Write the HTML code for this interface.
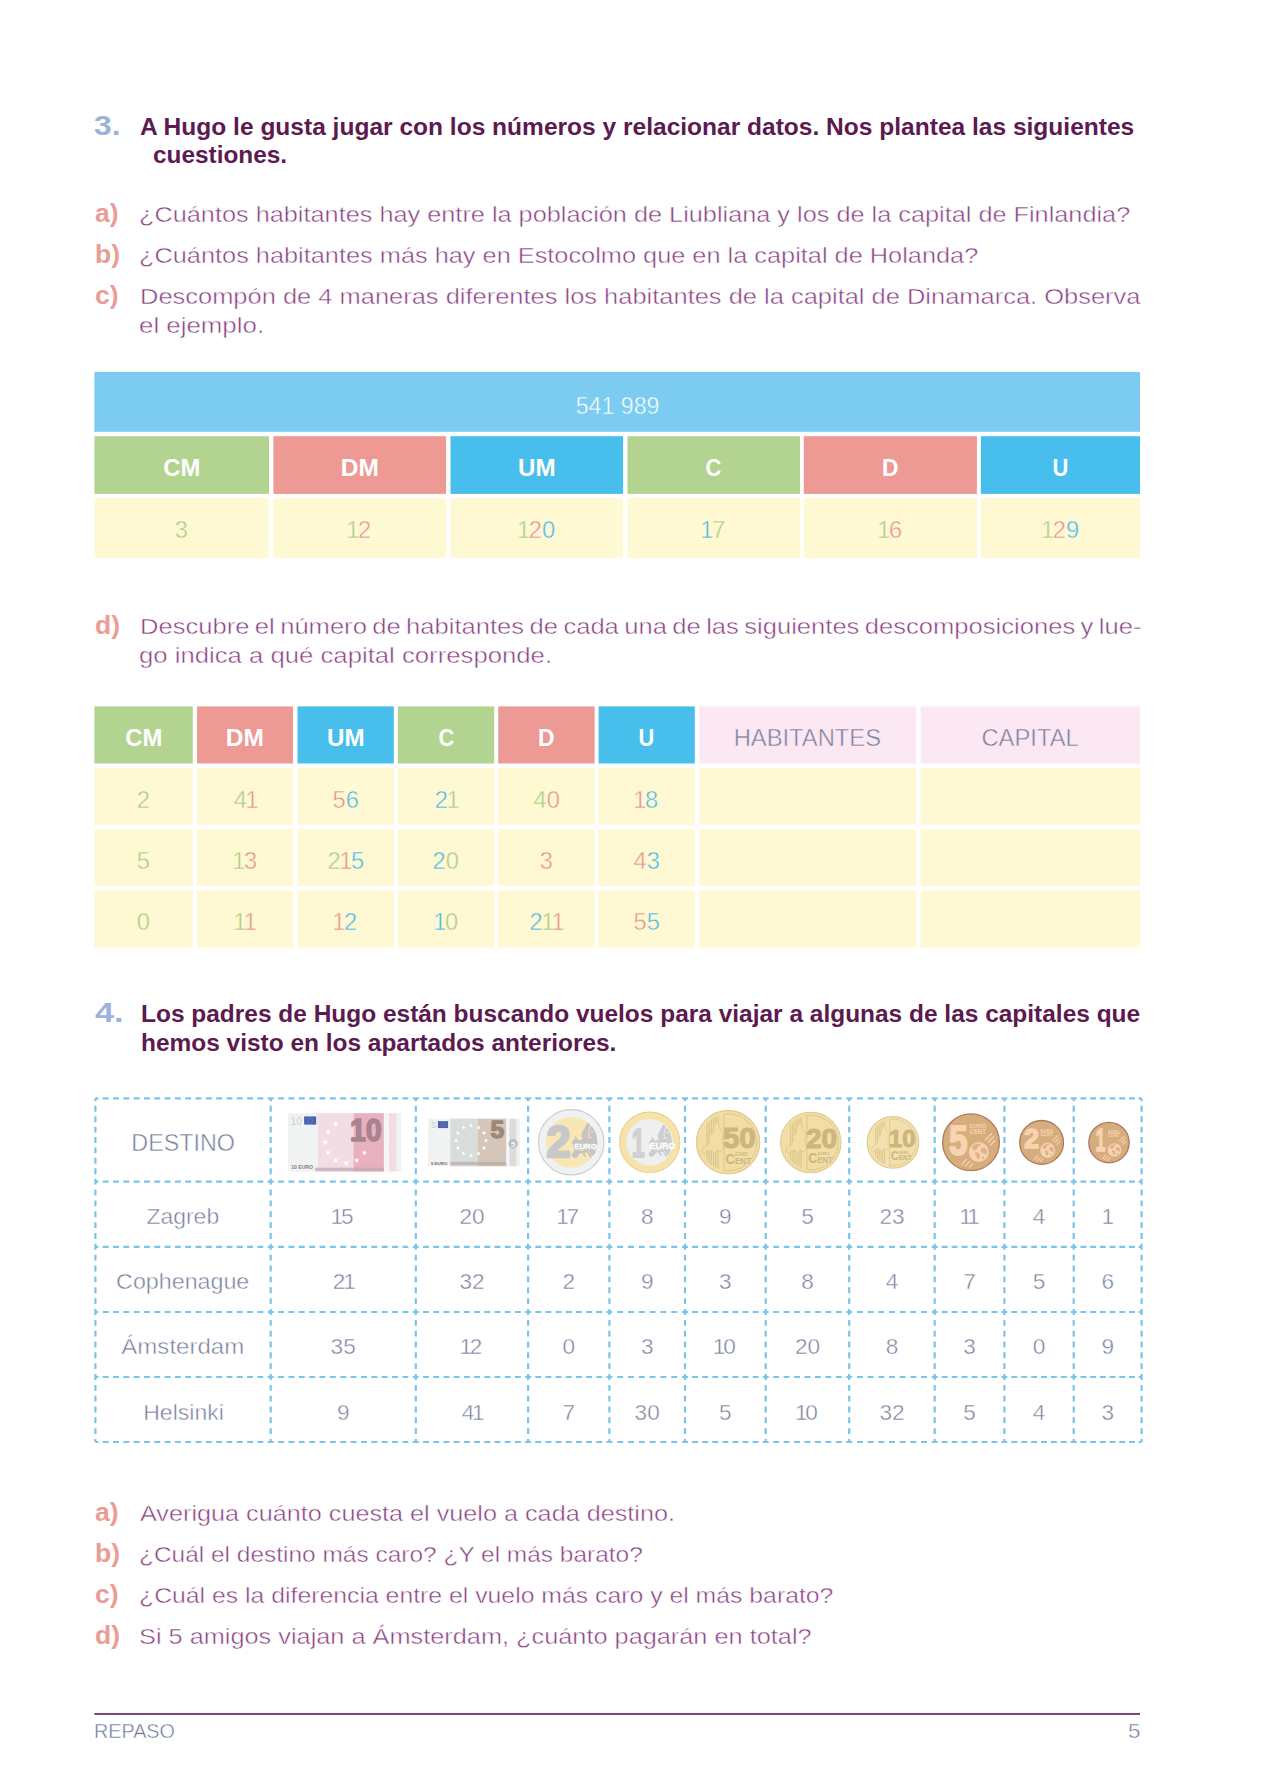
<!DOCTYPE html>
<html lang="es"><head><meta charset="utf-8"><title>Repaso</title>
<style>
html,body{margin:0;padding:0;background:#fff;overflow:hidden}
body{width:1276px;height:1790px;position:relative;font-family:"Liberation Sans",sans-serif}
.t{position:absolute;white-space:nowrap;line-height:1;margin:0}
.t span.s{display:inline-block;transform-origin:0 0}
.t.c span.s{transform-origin:50% 0}
.c{text-align:center}
.b{position:absolute}
svg{position:absolute;left:0;top:0}
</style></head><body><div id="pg" style="position:absolute;left:0;top:0;width:1276px;height:1790px;overflow:hidden">
<svg width="1276" height="1790" viewBox="0 0 1276 1790" font-family="Liberation Sans, sans-serif">
<rect x="94.4" y="371.9" width="1045.6" height="59.9" fill="#7bccf0"/>
<rect x="94.4" y="436.2" width="174.6" height="57.7" fill="#b2d490"/>
<rect x="94.4" y="498.2" width="174.6" height="59.6" fill="#fef8d3"/>
<rect x="273.4" y="436.2" width="172.7" height="57.7" fill="#ed9994"/>
<rect x="273.4" y="498.2" width="172.7" height="59.6" fill="#fef8d3"/>
<rect x="450.5" y="436.2" width="172.6" height="57.7" fill="#47beec"/>
<rect x="450.5" y="498.2" width="172.6" height="59.6" fill="#fef8d3"/>
<rect x="627.5" y="436.2" width="172.5" height="57.7" fill="#b2d490"/>
<rect x="627.5" y="498.2" width="172.5" height="59.6" fill="#fef8d3"/>
<rect x="803.8" y="436.2" width="173.1" height="57.7" fill="#ed9994"/>
<rect x="803.8" y="498.2" width="173.1" height="59.6" fill="#fef8d3"/>
<rect x="980.9" y="436.2" width="159.1" height="57.7" fill="#47beec"/>
<rect x="980.9" y="498.2" width="159.1" height="59.6" fill="#fef8d3"/>
<rect x="94.4" y="706.4" width="98.4" height="57.1" fill="#b2d490"/>
<rect x="94.4" y="768.0" width="98.4" height="56.8" fill="#fef8d3"/>
<rect x="94.4" y="829.3" width="98.4" height="56.8" fill="#fef8d3"/>
<rect x="94.4" y="890.6" width="98.4" height="56.8" fill="#fef8d3"/>
<rect x="197.0" y="706.4" width="96.0" height="57.1" fill="#ed9994"/>
<rect x="197.0" y="768.0" width="96.0" height="56.8" fill="#fef8d3"/>
<rect x="197.0" y="829.3" width="96.0" height="56.8" fill="#fef8d3"/>
<rect x="197.0" y="890.6" width="96.0" height="56.8" fill="#fef8d3"/>
<rect x="297.5" y="706.4" width="96.3" height="57.1" fill="#47beec"/>
<rect x="297.5" y="768.0" width="96.3" height="56.8" fill="#fef8d3"/>
<rect x="297.5" y="829.3" width="96.3" height="56.8" fill="#fef8d3"/>
<rect x="297.5" y="890.6" width="96.3" height="56.8" fill="#fef8d3"/>
<rect x="397.8" y="706.4" width="96.4" height="57.1" fill="#b2d490"/>
<rect x="397.8" y="768.0" width="96.4" height="56.8" fill="#fef8d3"/>
<rect x="397.8" y="829.3" width="96.4" height="56.8" fill="#fef8d3"/>
<rect x="397.8" y="890.6" width="96.4" height="56.8" fill="#fef8d3"/>
<rect x="498.2" y="706.4" width="96.4" height="57.1" fill="#ed9994"/>
<rect x="498.2" y="768.0" width="96.4" height="56.8" fill="#fef8d3"/>
<rect x="498.2" y="829.3" width="96.4" height="56.8" fill="#fef8d3"/>
<rect x="498.2" y="890.6" width="96.4" height="56.8" fill="#fef8d3"/>
<rect x="598.6" y="706.4" width="96.2" height="57.1" fill="#47beec"/>
<rect x="598.6" y="768.0" width="96.2" height="56.8" fill="#fef8d3"/>
<rect x="598.6" y="829.3" width="96.2" height="56.8" fill="#fef8d3"/>
<rect x="598.6" y="890.6" width="96.2" height="56.8" fill="#fef8d3"/>
<rect x="699.3" y="706.4" width="216.9" height="57.1" fill="#fce8f3"/>
<rect x="699.3" y="768.0" width="216.9" height="56.8" fill="#fef8d3"/>
<rect x="699.3" y="829.3" width="216.9" height="56.8" fill="#fef8d3"/>
<rect x="699.3" y="890.6" width="216.9" height="56.8" fill="#fef8d3"/>
<rect x="920.7" y="706.4" width="219.3" height="57.1" fill="#fce8f3"/>
<rect x="920.7" y="768.0" width="219.3" height="56.8" fill="#fef8d3"/>
<rect x="920.7" y="829.3" width="219.3" height="56.8" fill="#fef8d3"/>
<rect x="920.7" y="890.6" width="219.3" height="56.8" fill="#fef8d3"/>

<g stroke="#79c4ea" stroke-width="2.2" fill="none"><path d="M95.4 1098.4L270.7 1098.4" stroke-dasharray="5.90 4.41" stroke-dashoffset="2.95"/><path d="M270.7 1098.4L415.8 1098.4" stroke-dasharray="5.90 4.46" stroke-dashoffset="2.95"/><path d="M415.8 1098.4L528.1 1098.4" stroke-dasharray="5.90 4.31" stroke-dashoffset="2.95"/><path d="M528.1 1098.4L609.4 1098.4" stroke-dasharray="5.90 4.26" stroke-dashoffset="2.95"/><path d="M609.4 1098.4L685.0 1098.4" stroke-dasharray="5.90 4.90" stroke-dashoffset="2.95"/><path d="M685.0 1098.4L765.7 1098.4" stroke-dasharray="5.90 4.19" stroke-dashoffset="2.95"/><path d="M765.7 1098.4L849.2 1098.4" stroke-dasharray="5.90 4.54" stroke-dashoffset="2.95"/><path d="M849.2 1098.4L934.7 1098.4" stroke-dasharray="5.90 4.79" stroke-dashoffset="2.95"/><path d="M934.7 1098.4L1004.4 1098.4" stroke-dasharray="5.90 4.06" stroke-dashoffset="2.95"/><path d="M1004.4 1098.4L1073.7 1098.4" stroke-dasharray="5.90 4.00" stroke-dashoffset="2.95"/><path d="M1073.7 1098.4L1141.6 1098.4" stroke-dasharray="5.90 3.80" stroke-dashoffset="2.95"/><path d="M95.4 1181.6L270.7 1181.6" stroke-dasharray="5.90 4.41" stroke-dashoffset="2.95"/><path d="M270.7 1181.6L415.8 1181.6" stroke-dasharray="5.90 4.46" stroke-dashoffset="2.95"/><path d="M415.8 1181.6L528.1 1181.6" stroke-dasharray="5.90 4.31" stroke-dashoffset="2.95"/><path d="M528.1 1181.6L609.4 1181.6" stroke-dasharray="5.90 4.26" stroke-dashoffset="2.95"/><path d="M609.4 1181.6L685.0 1181.6" stroke-dasharray="5.90 4.90" stroke-dashoffset="2.95"/><path d="M685.0 1181.6L765.7 1181.6" stroke-dasharray="5.90 4.19" stroke-dashoffset="2.95"/><path d="M765.7 1181.6L849.2 1181.6" stroke-dasharray="5.90 4.54" stroke-dashoffset="2.95"/><path d="M849.2 1181.6L934.7 1181.6" stroke-dasharray="5.90 4.79" stroke-dashoffset="2.95"/><path d="M934.7 1181.6L1004.4 1181.6" stroke-dasharray="5.90 4.06" stroke-dashoffset="2.95"/><path d="M1004.4 1181.6L1073.7 1181.6" stroke-dasharray="5.90 4.00" stroke-dashoffset="2.95"/><path d="M1073.7 1181.6L1141.6 1181.6" stroke-dasharray="5.90 3.80" stroke-dashoffset="2.95"/><path d="M95.4 1246.8L270.7 1246.8" stroke-dasharray="5.90 4.41" stroke-dashoffset="2.95"/><path d="M270.7 1246.8L415.8 1246.8" stroke-dasharray="5.90 4.46" stroke-dashoffset="2.95"/><path d="M415.8 1246.8L528.1 1246.8" stroke-dasharray="5.90 4.31" stroke-dashoffset="2.95"/><path d="M528.1 1246.8L609.4 1246.8" stroke-dasharray="5.90 4.26" stroke-dashoffset="2.95"/><path d="M609.4 1246.8L685.0 1246.8" stroke-dasharray="5.90 4.90" stroke-dashoffset="2.95"/><path d="M685.0 1246.8L765.7 1246.8" stroke-dasharray="5.90 4.19" stroke-dashoffset="2.95"/><path d="M765.7 1246.8L849.2 1246.8" stroke-dasharray="5.90 4.54" stroke-dashoffset="2.95"/><path d="M849.2 1246.8L934.7 1246.8" stroke-dasharray="5.90 4.79" stroke-dashoffset="2.95"/><path d="M934.7 1246.8L1004.4 1246.8" stroke-dasharray="5.90 4.06" stroke-dashoffset="2.95"/><path d="M1004.4 1246.8L1073.7 1246.8" stroke-dasharray="5.90 4.00" stroke-dashoffset="2.95"/><path d="M1073.7 1246.8L1141.6 1246.8" stroke-dasharray="5.90 3.80" stroke-dashoffset="2.95"/><path d="M95.4 1312.0L270.7 1312.0" stroke-dasharray="5.90 4.41" stroke-dashoffset="2.95"/><path d="M270.7 1312.0L415.8 1312.0" stroke-dasharray="5.90 4.46" stroke-dashoffset="2.95"/><path d="M415.8 1312.0L528.1 1312.0" stroke-dasharray="5.90 4.31" stroke-dashoffset="2.95"/><path d="M528.1 1312.0L609.4 1312.0" stroke-dasharray="5.90 4.26" stroke-dashoffset="2.95"/><path d="M609.4 1312.0L685.0 1312.0" stroke-dasharray="5.90 4.90" stroke-dashoffset="2.95"/><path d="M685.0 1312.0L765.7 1312.0" stroke-dasharray="5.90 4.19" stroke-dashoffset="2.95"/><path d="M765.7 1312.0L849.2 1312.0" stroke-dasharray="5.90 4.54" stroke-dashoffset="2.95"/><path d="M849.2 1312.0L934.7 1312.0" stroke-dasharray="5.90 4.79" stroke-dashoffset="2.95"/><path d="M934.7 1312.0L1004.4 1312.0" stroke-dasharray="5.90 4.06" stroke-dashoffset="2.95"/><path d="M1004.4 1312.0L1073.7 1312.0" stroke-dasharray="5.90 4.00" stroke-dashoffset="2.95"/><path d="M1073.7 1312.0L1141.6 1312.0" stroke-dasharray="5.90 3.80" stroke-dashoffset="2.95"/><path d="M95.4 1377.0L270.7 1377.0" stroke-dasharray="5.90 4.41" stroke-dashoffset="2.95"/><path d="M270.7 1377.0L415.8 1377.0" stroke-dasharray="5.90 4.46" stroke-dashoffset="2.95"/><path d="M415.8 1377.0L528.1 1377.0" stroke-dasharray="5.90 4.31" stroke-dashoffset="2.95"/><path d="M528.1 1377.0L609.4 1377.0" stroke-dasharray="5.90 4.26" stroke-dashoffset="2.95"/><path d="M609.4 1377.0L685.0 1377.0" stroke-dasharray="5.90 4.90" stroke-dashoffset="2.95"/><path d="M685.0 1377.0L765.7 1377.0" stroke-dasharray="5.90 4.19" stroke-dashoffset="2.95"/><path d="M765.7 1377.0L849.2 1377.0" stroke-dasharray="5.90 4.54" stroke-dashoffset="2.95"/><path d="M849.2 1377.0L934.7 1377.0" stroke-dasharray="5.90 4.79" stroke-dashoffset="2.95"/><path d="M934.7 1377.0L1004.4 1377.0" stroke-dasharray="5.90 4.06" stroke-dashoffset="2.95"/><path d="M1004.4 1377.0L1073.7 1377.0" stroke-dasharray="5.90 4.00" stroke-dashoffset="2.95"/><path d="M1073.7 1377.0L1141.6 1377.0" stroke-dasharray="5.90 3.80" stroke-dashoffset="2.95"/><path d="M95.4 1442.0L270.7 1442.0" stroke-dasharray="5.90 4.41" stroke-dashoffset="2.95"/><path d="M270.7 1442.0L415.8 1442.0" stroke-dasharray="5.90 4.46" stroke-dashoffset="2.95"/><path d="M415.8 1442.0L528.1 1442.0" stroke-dasharray="5.90 4.31" stroke-dashoffset="2.95"/><path d="M528.1 1442.0L609.4 1442.0" stroke-dasharray="5.90 4.26" stroke-dashoffset="2.95"/><path d="M609.4 1442.0L685.0 1442.0" stroke-dasharray="5.90 4.90" stroke-dashoffset="2.95"/><path d="M685.0 1442.0L765.7 1442.0" stroke-dasharray="5.90 4.19" stroke-dashoffset="2.95"/><path d="M765.7 1442.0L849.2 1442.0" stroke-dasharray="5.90 4.54" stroke-dashoffset="2.95"/><path d="M849.2 1442.0L934.7 1442.0" stroke-dasharray="5.90 4.79" stroke-dashoffset="2.95"/><path d="M934.7 1442.0L1004.4 1442.0" stroke-dasharray="5.90 4.06" stroke-dashoffset="2.95"/><path d="M1004.4 1442.0L1073.7 1442.0" stroke-dasharray="5.90 4.00" stroke-dashoffset="2.95"/><path d="M1073.7 1442.0L1141.6 1442.0" stroke-dasharray="5.90 3.80" stroke-dashoffset="2.95"/><path d="M95.4 1098.4L95.4 1181.6" stroke-dasharray="5.90 4.50" stroke-dashoffset="2.95"/><path d="M95.4 1181.6L95.4 1246.8" stroke-dasharray="5.90 4.97" stroke-dashoffset="2.95"/><path d="M95.4 1246.8L95.4 1312.0" stroke-dasharray="5.90 4.97" stroke-dashoffset="2.95"/><path d="M95.4 1312.0L95.4 1377.0" stroke-dasharray="5.90 4.93" stroke-dashoffset="2.95"/><path d="M95.4 1377.0L95.4 1442.0" stroke-dasharray="5.90 4.93" stroke-dashoffset="2.95"/><path d="M270.7 1098.4L270.7 1181.6" stroke-dasharray="5.90 4.50" stroke-dashoffset="2.95"/><path d="M270.7 1181.6L270.7 1246.8" stroke-dasharray="5.90 4.97" stroke-dashoffset="2.95"/><path d="M270.7 1246.8L270.7 1312.0" stroke-dasharray="5.90 4.97" stroke-dashoffset="2.95"/><path d="M270.7 1312.0L270.7 1377.0" stroke-dasharray="5.90 4.93" stroke-dashoffset="2.95"/><path d="M270.7 1377.0L270.7 1442.0" stroke-dasharray="5.90 4.93" stroke-dashoffset="2.95"/><path d="M415.8 1098.4L415.8 1181.6" stroke-dasharray="5.90 4.50" stroke-dashoffset="2.95"/><path d="M415.8 1181.6L415.8 1246.8" stroke-dasharray="5.90 4.97" stroke-dashoffset="2.95"/><path d="M415.8 1246.8L415.8 1312.0" stroke-dasharray="5.90 4.97" stroke-dashoffset="2.95"/><path d="M415.8 1312.0L415.8 1377.0" stroke-dasharray="5.90 4.93" stroke-dashoffset="2.95"/><path d="M415.8 1377.0L415.8 1442.0" stroke-dasharray="5.90 4.93" stroke-dashoffset="2.95"/><path d="M528.1 1098.4L528.1 1181.6" stroke-dasharray="5.90 4.50" stroke-dashoffset="2.95"/><path d="M528.1 1181.6L528.1 1246.8" stroke-dasharray="5.90 4.97" stroke-dashoffset="2.95"/><path d="M528.1 1246.8L528.1 1312.0" stroke-dasharray="5.90 4.97" stroke-dashoffset="2.95"/><path d="M528.1 1312.0L528.1 1377.0" stroke-dasharray="5.90 4.93" stroke-dashoffset="2.95"/><path d="M528.1 1377.0L528.1 1442.0" stroke-dasharray="5.90 4.93" stroke-dashoffset="2.95"/><path d="M609.4 1098.4L609.4 1181.6" stroke-dasharray="5.90 4.50" stroke-dashoffset="2.95"/><path d="M609.4 1181.6L609.4 1246.8" stroke-dasharray="5.90 4.97" stroke-dashoffset="2.95"/><path d="M609.4 1246.8L609.4 1312.0" stroke-dasharray="5.90 4.97" stroke-dashoffset="2.95"/><path d="M609.4 1312.0L609.4 1377.0" stroke-dasharray="5.90 4.93" stroke-dashoffset="2.95"/><path d="M609.4 1377.0L609.4 1442.0" stroke-dasharray="5.90 4.93" stroke-dashoffset="2.95"/><path d="M685.0 1098.4L685.0 1181.6" stroke-dasharray="5.90 4.50" stroke-dashoffset="2.95"/><path d="M685.0 1181.6L685.0 1246.8" stroke-dasharray="5.90 4.97" stroke-dashoffset="2.95"/><path d="M685.0 1246.8L685.0 1312.0" stroke-dasharray="5.90 4.97" stroke-dashoffset="2.95"/><path d="M685.0 1312.0L685.0 1377.0" stroke-dasharray="5.90 4.93" stroke-dashoffset="2.95"/><path d="M685.0 1377.0L685.0 1442.0" stroke-dasharray="5.90 4.93" stroke-dashoffset="2.95"/><path d="M765.7 1098.4L765.7 1181.6" stroke-dasharray="5.90 4.50" stroke-dashoffset="2.95"/><path d="M765.7 1181.6L765.7 1246.8" stroke-dasharray="5.90 4.97" stroke-dashoffset="2.95"/><path d="M765.7 1246.8L765.7 1312.0" stroke-dasharray="5.90 4.97" stroke-dashoffset="2.95"/><path d="M765.7 1312.0L765.7 1377.0" stroke-dasharray="5.90 4.93" stroke-dashoffset="2.95"/><path d="M765.7 1377.0L765.7 1442.0" stroke-dasharray="5.90 4.93" stroke-dashoffset="2.95"/><path d="M849.2 1098.4L849.2 1181.6" stroke-dasharray="5.90 4.50" stroke-dashoffset="2.95"/><path d="M849.2 1181.6L849.2 1246.8" stroke-dasharray="5.90 4.97" stroke-dashoffset="2.95"/><path d="M849.2 1246.8L849.2 1312.0" stroke-dasharray="5.90 4.97" stroke-dashoffset="2.95"/><path d="M849.2 1312.0L849.2 1377.0" stroke-dasharray="5.90 4.93" stroke-dashoffset="2.95"/><path d="M849.2 1377.0L849.2 1442.0" stroke-dasharray="5.90 4.93" stroke-dashoffset="2.95"/><path d="M934.7 1098.4L934.7 1181.6" stroke-dasharray="5.90 4.50" stroke-dashoffset="2.95"/><path d="M934.7 1181.6L934.7 1246.8" stroke-dasharray="5.90 4.97" stroke-dashoffset="2.95"/><path d="M934.7 1246.8L934.7 1312.0" stroke-dasharray="5.90 4.97" stroke-dashoffset="2.95"/><path d="M934.7 1312.0L934.7 1377.0" stroke-dasharray="5.90 4.93" stroke-dashoffset="2.95"/><path d="M934.7 1377.0L934.7 1442.0" stroke-dasharray="5.90 4.93" stroke-dashoffset="2.95"/><path d="M1004.4 1098.4L1004.4 1181.6" stroke-dasharray="5.90 4.50" stroke-dashoffset="2.95"/><path d="M1004.4 1181.6L1004.4 1246.8" stroke-dasharray="5.90 4.97" stroke-dashoffset="2.95"/><path d="M1004.4 1246.8L1004.4 1312.0" stroke-dasharray="5.90 4.97" stroke-dashoffset="2.95"/><path d="M1004.4 1312.0L1004.4 1377.0" stroke-dasharray="5.90 4.93" stroke-dashoffset="2.95"/><path d="M1004.4 1377.0L1004.4 1442.0" stroke-dasharray="5.90 4.93" stroke-dashoffset="2.95"/><path d="M1073.7 1098.4L1073.7 1181.6" stroke-dasharray="5.90 4.50" stroke-dashoffset="2.95"/><path d="M1073.7 1181.6L1073.7 1246.8" stroke-dasharray="5.90 4.97" stroke-dashoffset="2.95"/><path d="M1073.7 1246.8L1073.7 1312.0" stroke-dasharray="5.90 4.97" stroke-dashoffset="2.95"/><path d="M1073.7 1312.0L1073.7 1377.0" stroke-dasharray="5.90 4.93" stroke-dashoffset="2.95"/><path d="M1073.7 1377.0L1073.7 1442.0" stroke-dasharray="5.90 4.93" stroke-dashoffset="2.95"/><path d="M1141.6 1098.4L1141.6 1181.6" stroke-dasharray="5.90 4.50" stroke-dashoffset="2.95"/><path d="M1141.6 1181.6L1141.6 1246.8" stroke-dasharray="5.90 4.97" stroke-dashoffset="2.95"/><path d="M1141.6 1246.8L1141.6 1312.0" stroke-dasharray="5.90 4.97" stroke-dashoffset="2.95"/><path d="M1141.6 1312.0L1141.6 1377.0" stroke-dasharray="5.90 4.93" stroke-dashoffset="2.95"/><path d="M1141.6 1377.0L1141.6 1442.0" stroke-dasharray="5.90 4.93" stroke-dashoffset="2.95"/></g>
<rect x="94.4" y="1713" width="1045.6" height="1.9" fill="#7b3a74"/>
<g><rect x="287.8" y="1113.2" width="113.3" height="58.4" fill="#f1f3f2"/><rect x="317.8" y="1113.2" width="35.7" height="58.4" fill="#f3dde5"/><rect x="353.5" y="1113.2" width="30.3" height="58.4" fill="#e9b1c0"/><rect x="384" y="1113.2" width="5" height="58.4" fill="#f6f6f6"/><path d="M389.5 1113.2H396.0Q397.6 1115.3 396.0 1117.4Q397.6 1119.5 396.0 1121.5Q397.6 1123.6 396.0 1125.7Q397.6 1127.8 396.0 1129.9Q397.6 1132.0 396.0 1134.1Q397.6 1136.1 396.0 1138.2Q397.6 1140.3 396.0 1142.4Q397.6 1144.5 396.0 1146.6Q397.6 1148.7 396.0 1150.7Q397.6 1152.8 396.0 1154.9Q397.6 1157.0 396.0 1159.1Q397.6 1161.2 396.0 1163.3Q397.6 1165.3 396.0 1167.4Q397.6 1169.5 396.0 1171.6H389.5Q387.9 1169.5 389.5 1167.4Q387.9 1165.3 389.5 1163.3Q387.9 1161.2 389.5 1159.1Q387.9 1157.0 389.5 1154.9Q387.9 1152.8 389.5 1150.7Q387.9 1148.7 389.5 1146.6Q387.9 1144.5 389.5 1142.4Q387.9 1140.3 389.5 1138.2Q387.9 1136.1 389.5 1134.1Q387.9 1132.0 389.5 1129.9Q387.9 1127.8 389.5 1125.7Q387.9 1123.6 389.5 1121.5Q387.9 1119.5 389.5 1117.4Q387.9 1115.3 389.5 1113.2Z" fill="#f3dce4"/><rect x="314.9" y="1167.7" width="68.9" height="3.5" fill="#c3a9b1" opacity=".75"/><rect x="304.1" y="1116.4" width="12.1" height="8.2" fill="#4c63b0"/><circle cx="310.2" cy="1120.5" r="2.5" fill="none" stroke="#8fa0d8" stroke-width=".6" stroke-dasharray=".6 .65"/><polygon points="364.4,1149.8 365.1,1151.7 367.1,1151.8 365.5,1153.1 366.1,1155.0 364.4,1153.9 362.7,1155.0 363.2,1153.1 361.6,1151.8 363.7,1151.7" fill="#fff"/><polygon points="356.7,1157.5 357.4,1159.4 359.5,1159.5 357.9,1160.8 358.4,1162.7 356.7,1161.6 355.0,1162.7 355.5,1160.8 353.9,1159.5 356.0,1159.4" fill="#fff"/><polygon points="346.2,1160.3 346.9,1162.2 349.0,1162.3 347.4,1163.6 347.9,1165.5 346.2,1164.4 344.5,1165.5 345.0,1163.6 343.4,1162.3 345.5,1162.2" fill="#fff"/><polygon points="335.7,1157.5 336.4,1159.4 338.5,1159.5 336.9,1160.8 337.4,1162.7 335.7,1161.6 334.0,1162.7 334.5,1160.8 332.9,1159.5 335.0,1159.4" fill="#fff"/><polygon points="328.0,1149.8 328.7,1151.7 330.8,1151.8 329.2,1153.1 329.7,1155.0 328.0,1153.9 326.3,1155.0 326.9,1153.1 325.3,1151.8 327.3,1151.7" fill="#fff"/><polygon points="325.2,1139.3 325.9,1141.2 328.0,1141.3 326.4,1142.6 326.9,1144.5 325.2,1143.4 323.5,1144.5 324.0,1142.6 322.4,1141.3 324.5,1141.2" fill="#fff"/><polygon points="328.0,1128.8 328.7,1130.7 330.8,1130.8 329.2,1132.1 329.7,1134.0 328.0,1132.9 326.3,1134.0 326.9,1132.1 325.3,1130.8 327.3,1130.7" fill="#fff"/><polygon points="335.7,1121.1 336.4,1123.0 338.5,1123.1 336.9,1124.4 337.4,1126.4 335.7,1125.2 334.0,1126.4 334.5,1124.4 332.9,1123.1 335.0,1123.0" fill="#fff"/><text x="290.4" y="1124.7" font-size="11.2" fill="#c9d0d4" textLength="11.6" lengthAdjust="spacingAndGlyphs">10</text><text x="349.9" y="1141.4" font-size="32.0" font-weight="700" fill="#a9838f" stroke="#a9838f" stroke-width="1.60" stroke-linejoin="round" textLength="31.8" lengthAdjust="spacingAndGlyphs">10</text><text x="291.2" y="1169.4" font-size="5" font-weight="700" fill="#8b7b80" textLength="21.8" lengthAdjust="spacingAndGlyphs">10 EURO</text></g>
<g><rect x="427.9" y="1118.7" width="92.1" height="47.6" fill="#f1f3f2"/><rect x="450.4" y="1118.7" width="27.1" height="47.6" fill="#d8dddc"/><rect x="477.5" y="1118.7" width="28.8" height="47.6" fill="#d6c6ba"/><rect x="506.3" y="1118.7" width="3" height="47.6" fill="#f6f6f6"/><path d="M509.9 1118.7H516.0Q517.6 1120.9 516.0 1123.0Q517.6 1125.2 516.0 1127.4Q517.6 1129.5 516.0 1131.7Q517.6 1133.8 516.0 1136.0Q517.6 1138.2 516.0 1140.3Q517.6 1142.5 516.0 1144.7Q517.6 1146.8 516.0 1149.0Q517.6 1151.2 516.0 1153.3Q517.6 1155.5 516.0 1157.6Q517.6 1159.8 516.0 1162.0Q517.6 1164.1 516.0 1166.3H509.9Q508.3 1164.1 509.9 1162.0Q508.3 1159.8 509.9 1157.6Q508.3 1155.5 509.9 1153.3Q508.3 1151.2 509.9 1149.0Q508.3 1146.8 509.9 1144.7Q508.3 1142.5 509.9 1140.3Q508.3 1138.2 509.9 1136.0Q508.3 1133.8 509.9 1131.7Q508.3 1129.5 509.9 1127.4Q508.3 1125.2 509.9 1123.0Q508.3 1120.9 509.9 1118.7Z" fill="#dcdcdc"/><rect x="450.4" y="1161.8" width="55.9" height="3.5" fill="#b8aaa2" opacity=".7"/><rect x="437.9" y="1121.1" width="10.2" height="7" fill="#4c63b0"/><circle cx="443" cy="1124.6" r="2.1" fill="none" stroke="#8fa0d8" stroke-width=".6" stroke-dasharray=".6 .55"/><polygon points="471.0,1123.2 471.6,1124.7 473.2,1124.8 471.9,1125.8 472.4,1127.4 471.0,1126.5 469.6,1127.4 470.1,1125.8 468.8,1124.8 470.4,1124.7" fill="#fff"/><polygon points="478.5,1125.2 479.1,1126.7 480.7,1126.8 479.4,1127.8 479.9,1129.4 478.5,1128.5 477.1,1129.4 477.6,1127.8 476.3,1126.8 477.9,1126.7" fill="#fff"/><polygon points="484.0,1130.7 484.6,1132.2 486.2,1132.3 484.9,1133.3 485.3,1134.9 484.0,1134.0 482.6,1134.9 483.1,1133.3 481.8,1132.3 483.4,1132.2" fill="#fff"/><polygon points="486.0,1138.2 486.6,1139.7 488.2,1139.8 486.9,1140.8 487.4,1142.4 486.0,1141.5 484.6,1142.4 485.1,1140.8 483.8,1139.8 485.4,1139.7" fill="#fff"/><polygon points="484.0,1145.7 484.6,1147.2 486.2,1147.3 484.9,1148.3 485.3,1149.9 484.0,1149.0 482.6,1149.9 483.1,1148.3 481.8,1147.3 483.4,1147.2" fill="#fff"/><polygon points="478.5,1151.2 479.1,1152.7 480.7,1152.8 479.4,1153.8 479.9,1155.4 478.5,1154.5 477.1,1155.4 477.6,1153.8 476.3,1152.8 477.9,1152.7" fill="#fff"/><polygon points="471.0,1153.2 471.6,1154.7 473.2,1154.8 471.9,1155.8 472.4,1157.4 471.0,1156.5 469.6,1157.4 470.1,1155.8 468.8,1154.8 470.4,1154.7" fill="#fff"/><polygon points="463.5,1151.2 464.1,1152.7 465.7,1152.8 464.4,1153.8 464.9,1155.4 463.5,1154.5 462.1,1155.4 462.6,1153.8 461.3,1152.8 462.9,1152.7" fill="#fff"/><polygon points="458.0,1145.7 458.6,1147.2 460.2,1147.3 458.9,1148.3 459.4,1149.9 458.0,1149.0 456.7,1149.9 457.1,1148.3 455.8,1147.3 457.4,1147.2" fill="#fff"/><polygon points="456.0,1138.2 456.6,1139.7 458.2,1139.8 456.9,1140.8 457.4,1142.4 456.0,1141.5 454.6,1142.4 455.1,1140.8 453.8,1139.8 455.4,1139.7" fill="#fff"/><polygon points="458.0,1130.7 458.6,1132.2 460.2,1132.3 458.9,1133.3 459.4,1134.9 458.0,1134.0 456.7,1134.9 457.1,1133.3 455.8,1132.3 457.4,1132.2" fill="#fff"/><polygon points="463.5,1125.2 464.1,1126.7 465.7,1126.8 464.4,1127.8 464.9,1129.4 463.5,1128.5 462.1,1129.4 462.6,1127.8 461.3,1126.8 462.9,1126.7" fill="#fff"/><text x="430.9" y="1128.2" font-size="9.4" fill="#c9d0d4">5</text><text x="490.4" y="1138.0" font-size="23.9" font-weight="700" fill="#9c8878" stroke="#9c8878" stroke-width="1.30" stroke-linejoin="round" textLength="13.7" lengthAdjust="spacingAndGlyphs">5</text><circle cx="513.1" cy="1143.8" r="4.7" fill="#bdbdbd"/><text x="513.1" y="1146.6" font-size="7.8" font-weight="700" fill="#f4f4f4" text-anchor="middle">5</text><text x="430.9" y="1164.5" font-size="4.3" font-weight="700" fill="#7d6a5c" textLength="16.6" lengthAdjust="spacingAndGlyphs">5 EURO</text></g>
<g><circle cx="571.2" cy="1142.3" r="32.7" fill="#eff1f2" stroke="#cbcbcb" stroke-width="1.1"/><circle cx="571.2" cy="1142.3" r="25.4" fill="#f9e6b5"/><clipPath id="k2"><circle cx="571.2" cy="1142.3" r="26.2"/></clipPath><g clip-path="url(#k2)"><g transform="translate(571.2 1142.3) scale(1.000)"><path d="M16.1 -19.7 L14.2 -16 L13.2 -13.8 L11.2 -10.5 L10.2 -7.9 L10.8 -5.2 L11.6 -3.2 L9.6 -2.6 L7.3 -2 L5.6 -4.4 L4.4 -6.6 L3.6 -5 L4.3 -3.2 L2.6 -3.2 L1.9 -1.2 L0.5 0.3 L1.4 2 L3.2 3.3 L2.2 5 L3 7.5 L2.6 9.7 L0.8 11.2 L0.5 13.2 L2.6 15.6 L5.2 15.2 L6.7 14.4 L7.6 12 L8.5 10.9 L11 10.6 L12 12.6 L13.6 15 L14.6 13.2 L13.4 10.6 L15.8 10 L17.4 12.4 L18.6 14.6 L20.6 15.8 L19.9 13.2 L21.6 12.9 L23 14.4 L30 14 L30 -16 L24 -22 L20.5 -17 L19 -14.5 L18.8 -18 Z" fill="#c4c4c4"/><path d="M18.6 -15.5L17.2 -9.5L18.2 -5.5M16.2 -4.2L20.5 -4.8M19.5 -10.5L22.5 -11M8.2 8.2L12.6 7.6M17.4 9.2L19.4 11.6M22.4 3L24.4 8" fill="none" stroke="#f9e6b5" stroke-width=".9" stroke-linecap="round"/></g></g><text x="546.5" y="1157.3" font-size="45.1" font-weight="700" fill="#c8c8c8" stroke="#c8c8c8" stroke-width="2.40" stroke-linejoin="round" textLength="24.1" lengthAdjust="spacingAndGlyphs">2</text><text x="574.4" y="1149.1" font-size="7.9" font-weight="700" fill="#fff" stroke="#fff" stroke-width=".3" textLength="22.3" lengthAdjust="spacingAndGlyphs">EURO</text></g>
<g><circle cx="649.7" cy="1142.3" r="30.2" fill="#f6e2ab" stroke="#ead091" stroke-width="1.1"/><circle cx="649.7" cy="1142.3" r="23.4" fill="#efefef"/><clipPath id="k1"><circle cx="648.2" cy="1142.6" r="23.8"/></clipPath><g clip-path="url(#k1)"><g transform="translate(648.2 1142.6) scale(0.920)"><path d="M16.1 -19.7 L14.2 -16 L13.2 -13.8 L11.2 -10.5 L10.2 -7.9 L10.8 -5.2 L11.6 -3.2 L9.6 -2.6 L7.3 -2 L5.6 -4.4 L4.4 -6.6 L3.6 -5 L4.3 -3.2 L2.6 -3.2 L1.9 -1.2 L0.5 0.3 L1.4 2 L3.2 3.3 L2.2 5 L3 7.5 L2.6 9.7 L0.8 11.2 L0.5 13.2 L2.6 15.6 L5.2 15.2 L6.7 14.4 L7.6 12 L8.5 10.9 L11 10.6 L12 12.6 L13.6 15 L14.6 13.2 L13.4 10.6 L15.8 10 L17.4 12.4 L18.6 14.6 L20.6 15.8 L19.9 13.2 L21.6 12.9 L23 14.4 L30 14 L30 -16 L24 -22 L20.5 -17 L19 -14.5 L18.8 -18 Z" fill="#cdcdcd"/><path d="M18.6 -15.5L17.2 -9.5L18.2 -5.5M16.2 -4.2L20.5 -4.8M19.5 -10.5L22.5 -11M8.2 8.2L12.6 7.6M17.4 9.2L19.4 11.6M22.4 3L24.4 8" fill="none" stroke="#efefef" stroke-width=".9" stroke-linecap="round"/></g></g><text x="631.7" y="1157.4" font-size="40.5" font-weight="700" fill="#d1d1d1" stroke="#d1d1d1" stroke-width="2.20" stroke-linejoin="round" textLength="12.9" lengthAdjust="spacingAndGlyphs">1</text><text x="649.6" y="1149.4" font-size="9.2" font-weight="700" fill="#fff" stroke="#fff" stroke-width=".3" textLength="26" lengthAdjust="spacingAndGlyphs">EURO</text></g>
<g><circle cx="728.1" cy="1142.3" r="31.7" fill="#f1dda5" stroke="#e0c98c" stroke-width="1.1"/><clipPath id="g50"><circle cx="728.1" cy="1142.3" r="28.2"/></clipPath><g clip-path="url(#g50)"><path d="M707.1 1110.1V1174.5M709.2 1110.1V1174.5M711.4 1110.1V1174.5M713.6 1110.1V1174.5M715.7 1110.1V1174.5M717.9 1110.1V1174.5" stroke="#d6c088" stroke-width="0.95" fill="none"/></g><path d="M-10.5 -20.8L-8.1 -13.8L-4.6 -7.9L-6.4 -2L-4 6.2L-8.1 9.7L-11.1 7.4L-12.8 12.1L-15.8 8.5L-20.5 8L-23.4 12L-26.3 9.7L-25.2 5.6L-20.5 2.7L-18.1 -3.2L-19.3 -6.7L-15.2 -9.1L-14.6 -15L-12.8 -19.7Z" fill="#f1dda5" stroke="#dac58d" stroke-width=".8" stroke-linejoin="round" transform="translate(728.1 1142.3) scale(1.000)"/><path d="M724.0 1114.0A28.6 28.6 0 1 1 724.0 1170.6Z" fill="none" stroke="#d6c088" stroke-width="0.80"/><text x="723.0" y="1148.0" font-size="28.9" font-weight="700" fill="#cdb57e" stroke="#cdb57e" stroke-width="1.10" stroke-linejoin="round" textLength="32.7" lengthAdjust="spacingAndGlyphs">50</text><text x="735.3" y="1155.8" font-size="4.5" font-weight="700" fill="#cdb57e" textLength="12.3" lengthAdjust="spacingAndGlyphs">EURO</text><text x="725.5" y="1163.8" font-weight="700" fill="#cdb57e" textLength="25.6" lengthAdjust="spacingAndGlyphs"><tspan font-size="14.8">C</tspan><tspan font-size="9.1">ENT</tspan></text></g>
<g><circle cx="810.8" cy="1142.5" r="30.2" fill="#f1dda5" stroke="#e0c98c" stroke-width="1.1"/><clipPath id="g20"><circle cx="810.8" cy="1142.5" r="27.0"/></clipPath><g clip-path="url(#g20)"><path d="M790.7 1111.7V1173.3M792.8 1111.7V1173.3M794.8 1111.7V1173.3M796.9 1111.7V1173.3M798.9 1111.7V1173.3M801.0 1111.7V1173.3" stroke="#d6c088" stroke-width="0.91" fill="none"/></g><path d="M-10.5 -20.8L-8.1 -13.8L-4.6 -7.9L-6.4 -2L-4 6.2L-8.1 9.7L-11.1 7.4L-12.8 12.1L-15.8 8.5L-20.5 8L-23.4 12L-26.3 9.7L-25.2 5.6L-20.5 2.7L-18.1 -3.2L-19.3 -6.7L-15.2 -9.1L-14.6 -15L-12.8 -19.7Z" fill="#f1dda5" stroke="#dac58d" stroke-width=".8" stroke-linejoin="round" transform="translate(810.8 1142.5) scale(0.957)"/><path d="M806.9 1115.4A27.4 27.4 0 1 1 806.9 1169.6Z" fill="none" stroke="#d6c088" stroke-width="0.77"/><text x="805.9" y="1147.9" font-size="27.7" font-weight="700" fill="#cdb57e" stroke="#cdb57e" stroke-width="1.05" stroke-linejoin="round" textLength="31.2" lengthAdjust="spacingAndGlyphs">20</text><text x="817.7" y="1155.4" font-size="4.3" font-weight="700" fill="#cdb57e" textLength="11.8" lengthAdjust="spacingAndGlyphs">EURO</text><text x="808.3" y="1163.1" font-weight="700" fill="#cdb57e" textLength="24.5" lengthAdjust="spacingAndGlyphs"><tspan font-size="14.2">C</tspan><tspan font-size="8.7">ENT</tspan></text></g>
<g><circle cx="893.0" cy="1142.4" r="25.8" fill="#f2e1af" stroke="#e0c98c" stroke-width="1.1"/><clipPath id="g10"><circle cx="893.0" cy="1142.4" r="23.1"/></clipPath><g clip-path="url(#g10)"><path d="M875.8 1116.0V1168.8M877.5 1116.0V1168.8M879.3 1116.0V1168.8M881.1 1116.0V1168.8M882.8 1116.0V1168.8M884.6 1116.0V1168.8" stroke="#d6c088" stroke-width="0.78" fill="none"/></g><path d="M-10.5 -20.8L-8.1 -13.8L-4.6 -7.9L-6.4 -2L-4 6.2L-8.1 9.7L-11.1 7.4L-12.8 12.1L-15.8 8.5L-20.5 8L-23.4 12L-26.3 9.7L-25.2 5.6L-20.5 2.7L-18.1 -3.2L-19.3 -6.7L-15.2 -9.1L-14.6 -15L-12.8 -19.7Z" fill="#f2e1af" stroke="#dac58d" stroke-width=".8" stroke-linejoin="round" transform="translate(893.0 1142.4) scale(0.820)"/><path d="M889.6 1119.2A23.4 23.4 0 1 1 889.6 1165.6Z" fill="none" stroke="#d6c088" stroke-width="0.66"/><text x="888.8" y="1147.0" font-size="23.7" font-weight="700" fill="#cdb57e" stroke="#cdb57e" stroke-width="0.90" stroke-linejoin="round" textLength="26.8" lengthAdjust="spacingAndGlyphs">10</text><text x="898.9" y="1153.5" font-size="3.7" font-weight="700" fill="#cdb57e" textLength="10.1" lengthAdjust="spacingAndGlyphs">EURO</text><text x="890.9" y="1160.0" font-weight="700" fill="#cdb57e" textLength="21.0" lengthAdjust="spacingAndGlyphs"><tspan font-size="12.1">C</tspan><tspan font-size="7.5">ENT</tspan></text></g>
<g><circle cx="971.0" cy="1142.3" r="28.4" fill="#d6ad7c" stroke="#ad7a5d" stroke-width="1.30"/><text x="948.9" y="1154.5" font-size="41.6" font-weight="700" fill="#f7d3b1" stroke="#f7d3b1" stroke-width="1.90" stroke-linejoin="round" textLength="18.6" lengthAdjust="spacingAndGlyphs">5</text><text x="969.6" y="1128.3" font-size="5.6" font-weight="700" fill="#f7d3b1" textLength="16.2" lengthAdjust="spacingAndGlyphs">EURO</text><text x="969.6" y="1133.8" font-size="6.5" font-weight="700" fill="#f7d3b1" textLength="16.2" lengthAdjust="spacingAndGlyphs">CENT</text><circle cx="978.8" cy="1152.0" r="9.9" fill="#f7d3b1"/><path d="M-0.62 -0.62Q-0.2 -0.95 0.25 -0.8Q0.1 -0.55 -0.15 -0.5Q-0.05 -0.3 -0.3 -0.2Q-0.5 -0.05 -0.55 -0.3Q-0.8 -0.35 -0.62 -0.62ZM0.3 -0.45Q0.6 -0.55 0.8 -0.2Q0.9 0.1 0.7 0.3Q0.55 0.05 0.35 0.1Q0.15 0 0.2 -0.2ZM-0.35 0.05Q-0.05 -0.05 0.1 0.2Q0.2 0.5 -0.05 0.75Q-0.3 0.6 -0.25 0.35Q-0.45 0.25 -0.35 0.05ZM0.35 0.45Q0.55 0.4 0.55 0.6Q0.4 0.8 0.3 0.65Z" fill="#d6ad7c" opacity=".8" transform="translate(978.8 1152.0) scale(9.90)"/><path d="M985.0 1140.3L992.0 1133.2M987.9 1142.6L993.8 1136.5M990.0 1145.6L995.0 1140.3M961.4 1164.7L966.7 1159.1M965.0 1166.4L969.9 1161.2M969.1 1167.3L972.9 1163.2" stroke="#f7d3b1" stroke-width="1.25" fill="none"/></g>
<g><circle cx="1041.6" cy="1142.4" r="21.9" fill="#d6ad7c" stroke="#ad7a5d" stroke-width="1.30"/><text x="1024.1" y="1148.4" font-size="27.6" font-weight="700" fill="#f7d3b1" stroke="#f7d3b1" stroke-width="1.47" stroke-linejoin="round" textLength="15.1" lengthAdjust="spacingAndGlyphs">2</text><text x="1040.5" y="1131.5" font-size="4.3" font-weight="700" fill="#f7d3b1" textLength="12.6" lengthAdjust="spacingAndGlyphs">EURO</text><text x="1040.5" y="1135.8" font-size="5.0" font-weight="700" fill="#f7d3b1" textLength="12.6" lengthAdjust="spacingAndGlyphs">CENT</text><circle cx="1047.6" cy="1150.3" r="7.5" fill="#f7d3b1"/><path d="M-0.62 -0.62Q-0.2 -0.95 0.25 -0.8Q0.1 -0.55 -0.15 -0.5Q-0.05 -0.3 -0.3 -0.2Q-0.5 -0.05 -0.55 -0.3Q-0.8 -0.35 -0.62 -0.62ZM0.3 -0.45Q0.6 -0.55 0.8 -0.2Q0.9 0.1 0.7 0.3Q0.55 0.05 0.35 0.1Q0.15 0 0.2 -0.2ZM-0.35 0.05Q-0.05 -0.05 0.1 0.2Q0.2 0.5 -0.05 0.75Q-0.3 0.6 -0.25 0.35Q-0.45 0.25 -0.35 0.05ZM0.35 0.45Q0.55 0.4 0.55 0.6Q0.4 0.8 0.3 0.65Z" fill="#d6ad7c" opacity=".8" transform="translate(1047.6 1150.3) scale(7.50)"/><path d="M1052.4 1140.8L1057.9 1135.3M1054.7 1142.6L1059.3 1137.9M1056.4 1144.9L1060.2 1140.8M1034.2 1159.8L1038.3 1155.4M1036.9 1161.1L1040.8 1157.1M1040.1 1161.8L1043.0 1158.6" stroke="#f7d3b1" stroke-width="1.05" fill="none"/></g>
<g><circle cx="1109.0" cy="1142.6" r="20.2" fill="#d6ad7c" stroke="#ad7a5d" stroke-width="1.30"/><text x="1095.6" y="1151.3" font-size="31.7" font-weight="700" fill="#f7d3b1" stroke="#f7d3b1" stroke-width="1.37" stroke-linejoin="round" textLength="9.9" lengthAdjust="spacingAndGlyphs">1</text><text x="1108.0" y="1132.5" font-size="4.0" font-weight="700" fill="#f7d3b1" textLength="11.7" lengthAdjust="spacingAndGlyphs">EURO</text><text x="1108.0" y="1136.5" font-size="4.7" font-weight="700" fill="#f7d3b1" textLength="11.7" lengthAdjust="spacingAndGlyphs">CENT</text><circle cx="1114.5" cy="1150.0" r="6.8" fill="#f7d3b1"/><path d="M-0.62 -0.62Q-0.2 -0.95 0.25 -0.8Q0.1 -0.55 -0.15 -0.5Q-0.05 -0.3 -0.3 -0.2Q-0.5 -0.05 -0.55 -0.3Q-0.8 -0.35 -0.62 -0.62ZM0.3 -0.45Q0.6 -0.55 0.8 -0.2Q0.9 0.1 0.7 0.3Q0.55 0.05 0.35 0.1Q0.15 0 0.2 -0.2ZM-0.35 0.05Q-0.05 -0.05 0.1 0.2Q0.2 0.5 -0.05 0.75Q-0.3 0.6 -0.25 0.35Q-0.45 0.25 -0.35 0.05ZM0.35 0.45Q0.55 0.4 0.55 0.6Q0.4 0.8 0.3 0.65Z" fill="#d6ad7c" opacity=".8" transform="translate(1114.5 1150.0) scale(6.80)"/><path d="M1119.1 1141.1L1124.2 1136.1M1121.2 1142.8L1125.5 1138.4M1122.8 1144.9L1126.3 1141.1M1102.2 1158.8L1106.0 1154.7M1104.7 1159.9L1108.3 1156.2M1107.7 1160.6L1110.4 1157.7" stroke="#f7d3b1" stroke-width="1.05" fill="none"/></g>
</svg>
<div class="t" style="top:109px;line-height:32px;font-size:28.50px;color:#9db2db;font-weight:700;left:93.8px;"><span class="s" id="t0" style="transform:scaleX(1.1154)">3.</span></div>
<div class="t" style="top:114px;line-height:26px;font-size:23.00px;color:#5c1a50;font-weight:700;left:140.4px;"><span class="s" id="t1" style="transform:scaleX(1.0666)">A Hugo le gusta jugar con los números y relacionar datos. Nos plantea las siguientes</span></div>
<div class="t" style="top:142px;line-height:26px;font-size:23.00px;color:#5c1a50;font-weight:700;left:153.0px;"><span class="s" id="t2" style="transform:scaleX(1.0593)">cuestiones.</span></div>
<div class="t" style="top:199px;line-height:28px;font-size:25.50px;color:#eb9c95;font-weight:700;left:95.3px;"><span class="s" id="t3" style="transform:scaleX(1.0400)">a)</span></div>
<div class="t" style="top:240px;line-height:28px;font-size:25.50px;color:#eb9c95;font-weight:700;left:95.3px;"><span class="s" id="t4" style="transform:scaleX(1.0400)">b)</span></div>
<div class="t" style="top:281px;line-height:28px;font-size:25.50px;color:#eb9c95;font-weight:700;left:95.3px;"><span class="s" id="t5" style="transform:scaleX(1.0400)">c)</span></div>
<div class="t" style="top:611px;line-height:28px;font-size:25.50px;color:#eb9c95;font-weight:700;left:95.3px;"><span class="s" id="t6" style="transform:scaleX(1.0400)">d)</span></div>
<div class="t" style="top:1498px;line-height:28px;font-size:25.50px;color:#eb9c95;font-weight:700;left:95.3px;"><span class="s" id="t7" style="transform:scaleX(1.0400)">a)</span></div>
<div class="t" style="top:1539px;line-height:28px;font-size:25.50px;color:#eb9c95;font-weight:700;left:95.3px;"><span class="s" id="t8" style="transform:scaleX(1.0400)">b)</span></div>
<div class="t" style="top:1580px;line-height:28px;font-size:25.50px;color:#eb9c95;font-weight:700;left:95.3px;"><span class="s" id="t9" style="transform:scaleX(1.0400)">c)</span></div>
<div class="t" style="top:1621px;line-height:28px;font-size:25.50px;color:#eb9c95;font-weight:700;left:95.3px;"><span class="s" id="t10" style="transform:scaleX(1.0400)">d)</span></div>
<div class="t" style="top:202px;line-height:25px;font-size:22.60px;color:#8a4283;-webkit-text-stroke:.45px #fff;left:138.8px;"><span class="s" id="t11" style="transform:scaleX(1.1194)">¿Cuántos habitantes hay entre la población de Liubliana y los de la capital de Finlandia?</span></div>
<div class="t" style="top:243px;line-height:25px;font-size:22.60px;color:#8a4283;-webkit-text-stroke:.45px #fff;left:138.8px;"><span class="s" id="t12" style="transform:scaleX(1.1211)">¿Cuántos habitantes más hay en Estocolmo que en la capital de Holanda?</span></div>
<div class="t" style="top:284px;line-height:25px;font-size:22.60px;color:#8a4283;-webkit-text-stroke:.45px #fff;left:139.6px;"><span class="s" id="t13" style="transform:scaleX(1.1267)">Descompón de 4 maneras diferentes los habitantes de la capital de Dinamarca. Observa</span></div>
<div class="t" style="top:313px;line-height:25px;font-size:22.60px;color:#8a4283;-webkit-text-stroke:.45px #fff;left:139.0px;"><span class="s" id="t14" style="transform:scaleX(1.1447)">el ejemplo.</span></div>
<div class="t" style="top:614px;line-height:25px;font-size:22.60px;color:#8a4283;-webkit-text-stroke:.45px #fff;word-spacing:-1.50px;left:139.6px;"><span class="s" id="t15" style="transform:scaleX(1.1318)">Descubre el número de habitantes de cada una de las siguientes descomposiciones y lue-</span></div>
<div class="t" style="top:643px;line-height:25px;font-size:22.60px;color:#8a4283;-webkit-text-stroke:.45px #fff;left:139.0px;"><span class="s" id="t16" style="transform:scaleX(1.1378)">go indica a qué capital corresponde.</span></div>
<div class="t" style="top:996px;line-height:32px;font-size:28.50px;color:#9db2db;font-weight:700;left:95.0px;"><span class="s" id="t17" style="transform:scaleX(1.2027)">4.</span></div>
<div class="t" style="top:1001px;line-height:26px;font-size:23.00px;color:#5c1a50;font-weight:700;left:140.8px;"><span class="s" id="t18" style="transform:scaleX(1.0635)">Los padres de Hugo están buscando vuelos para viajar a algunas de las capitales que</span></div>
<div class="t" style="top:1030px;line-height:26px;font-size:23.00px;color:#5c1a50;font-weight:700;left:140.8px;"><span class="s" id="t19" style="transform:scaleX(1.0627)">hemos visto en los apartados anteriores.</span></div>
<div class="t" style="top:1501px;line-height:25px;font-size:22.60px;color:#8a4283;-webkit-text-stroke:.45px #fff;left:139.8px;"><span class="s" id="t20" style="transform:scaleX(1.1160)">Averigua cuánto cuesta el vuelo a cada destino.</span></div>
<div class="t" style="top:1542px;line-height:25px;font-size:22.60px;color:#8a4283;-webkit-text-stroke:.45px #fff;left:139.4px;"><span class="s" id="t21" style="transform:scaleX(1.0823)">¿Cuál el destino más caro? ¿Y el más barato?</span></div>
<div class="t" style="top:1583px;line-height:25px;font-size:22.60px;color:#8a4283;-webkit-text-stroke:.45px #fff;left:139.4px;"><span class="s" id="t22" style="transform:scaleX(1.0971)">¿Cuál es la diferencia entre el vuelo más caro y el más barato?</span></div>
<div class="t" style="top:1624px;line-height:25px;font-size:22.60px;color:#8a4283;-webkit-text-stroke:.45px #fff;left:139.2px;"><span class="s" id="t23" style="transform:scaleX(1.1204)">Si 5 amigos viajan a Ámsterdam, ¿cuánto pagarán en total?</span></div>
<div class="t" style="top:1720px;line-height:22px;font-size:20.20px;color:#6c7797;-webkit-text-stroke:.45px #fff;left:94.2px;"><span class="s" id="t24" style="transform:scaleX(0.9788)">REPASO</span></div>
<div class="t" style="top:1720px;line-height:22px;font-size:20.20px;color:#6c7797;-webkit-text-stroke:.45px #fff;left:1127.8px;"><span class="s" id="t25" style="transform:scaleX(1.1127)">5</span></div>
<div class="t c" style="top:393px;line-height:26px;font-size:23.00px;color:#fff;-webkit-text-stroke:.45px #7bccf0;left:517.5px;width:200px;"><span class="s" id="t26" style="transform:scaleX(1.0067)">541 989</span></div>
<div class="t c" style="top:455px;line-height:26px;font-size:23.00px;color:#fff;font-weight:700;left:81.7px;width:200px;"><span class="s" id="t27" style="transform:scaleX(1.0369)">CM</span></div>
<div class="t c" style="top:517px;line-height:26px;font-size:23.00px;color:#a7cd84;-webkit-text-stroke:.45px #fef8d3;left:81.7px;width:200px;"><span class="s" id="t28" style="transform:scaleX(1.0300)"><span style="color:#a7cd84">3</span></span></div>
<div class="t c" style="top:455px;line-height:26px;font-size:23.00px;color:#fff;font-weight:700;left:259.8px;width:200px;"><span class="s" id="t29" style="transform:scaleX(1.0648)">DM</span></div>
<div class="t c" style="top:517px;line-height:26px;font-size:23.00px;color:#a7cd84;-webkit-text-stroke:.45px #fef8d3;left:259.8px;width:200px;"><span class="s" id="t30" style="transform:scaleX(1.0300)"><span style="color:#a7cd84;margin:0 -.06em">1</span><span style="color:#e9908a">2</span></span></div>
<div class="t c" style="top:455px;line-height:26px;font-size:23.00px;color:#fff;font-weight:700;left:436.8px;width:200px;"><span class="s" id="t31" style="transform:scaleX(1.0508)">UM</span></div>
<div class="t c" style="top:517px;line-height:26px;font-size:23.00px;color:#a7cd84;-webkit-text-stroke:.45px #fef8d3;left:436.8px;width:200px;"><span class="s" id="t32" style="transform:scaleX(1.0300)"><span style="color:#a7cd84;margin:0 -.06em">1</span><span style="color:#e9908a">2</span><span style="color:#49b9e9">0</span></span></div>
<div class="t c" style="top:455px;line-height:26px;font-size:23.00px;color:#fff;font-weight:700;left:613.8px;width:200px;"><span class="s" id="t33" style="transform:scaleX(0.9504)">C</span></div>
<div class="t c" style="top:517px;line-height:26px;font-size:23.00px;color:#a7cd84;-webkit-text-stroke:.45px #fef8d3;left:613.8px;width:200px;"><span class="s" id="t34" style="transform:scaleX(1.0300)"><span style="color:#49b9e9;margin:0 -.06em">1</span><span style="color:#a7cd84">7</span></span></div>
<div class="t c" style="top:455px;line-height:26px;font-size:23.00px;color:#fff;font-weight:700;left:790.3px;width:200px;"><span class="s" id="t35" style="transform:scaleX(0.9925)">D</span></div>
<div class="t c" style="top:517px;line-height:26px;font-size:23.00px;color:#a7cd84;-webkit-text-stroke:.45px #fef8d3;left:790.3px;width:200px;"><span class="s" id="t36" style="transform:scaleX(1.0300)"><span style="color:#a7cd84;margin:0 -.06em">1</span><span style="color:#e9908a">6</span></span></div>
<div class="t c" style="top:455px;line-height:26px;font-size:23.00px;color:#fff;font-weight:700;left:960.5px;width:200px;"><span class="s" id="t37" style="transform:scaleX(0.9504)">U</span></div>
<div class="t c" style="top:517px;line-height:26px;font-size:23.00px;color:#a7cd84;-webkit-text-stroke:.45px #fef8d3;left:960.5px;width:200px;"><span class="s" id="t38" style="transform:scaleX(1.0300)"><span style="color:#a7cd84;margin:0 -.06em">1</span><span style="color:#e9908a">2</span><span style="color:#49b9e9">9</span></span></div>
<div class="t c" style="top:725px;line-height:26px;font-size:23.00px;color:#fff;font-weight:700;left:43.6px;width:200px;"><span class="s" id="t39" style="transform:scaleX(1.0369)">CM</span></div>
<div class="t c" style="top:787px;line-height:26px;font-size:23.00px;color:#a7cd84;-webkit-text-stroke:.45px #fef8d3;left:43.6px;width:200px;"><span class="s" id="t40" style="transform:scaleX(1.0300)"><span style="color:#a7cd84">2</span></span></div>
<div class="t c" style="top:848px;line-height:26px;font-size:23.00px;color:#a7cd84;-webkit-text-stroke:.45px #fef8d3;left:43.6px;width:200px;"><span class="s" id="t41" style="transform:scaleX(1.0300)"><span style="color:#a7cd84">5</span></span></div>
<div class="t c" style="top:909px;line-height:26px;font-size:23.00px;color:#a7cd84;-webkit-text-stroke:.45px #fef8d3;left:43.6px;width:200px;"><span class="s" id="t42" style="transform:scaleX(1.0300)"><span style="color:#a7cd84">0</span></span></div>
<div class="t c" style="top:725px;line-height:26px;font-size:23.00px;color:#fff;font-weight:700;left:145.0px;width:200px;"><span class="s" id="t43" style="transform:scaleX(1.0648)">DM</span></div>
<div class="t c" style="top:787px;line-height:26px;font-size:23.00px;color:#a7cd84;-webkit-text-stroke:.45px #fef8d3;left:145.0px;width:200px;"><span class="s" id="t44" style="transform:scaleX(1.0300)"><span style="color:#a7cd84">4</span><span style="color:#e9908a;margin:0 -.06em">1</span></span></div>
<div class="t c" style="top:848px;line-height:26px;font-size:23.00px;color:#a7cd84;-webkit-text-stroke:.45px #fef8d3;left:145.0px;width:200px;"><span class="s" id="t45" style="transform:scaleX(1.0300)"><span style="color:#a7cd84;margin:0 -.06em">1</span><span style="color:#e9908a">3</span></span></div>
<div class="t c" style="top:909px;line-height:26px;font-size:23.00px;color:#a7cd84;-webkit-text-stroke:.45px #fef8d3;left:145.0px;width:200px;"><span class="s" id="t46" style="transform:scaleX(1.0300)"><span style="color:#a7cd84;margin:0 -.06em">1</span><span style="color:#e9908a;margin:0 -.06em">1</span></span></div>
<div class="t c" style="top:725px;line-height:26px;font-size:23.00px;color:#fff;font-weight:700;left:245.6px;width:200px;"><span class="s" id="t47" style="transform:scaleX(1.0508)">UM</span></div>
<div class="t c" style="top:787px;line-height:26px;font-size:23.00px;color:#a7cd84;-webkit-text-stroke:.45px #fef8d3;left:245.6px;width:200px;"><span class="s" id="t48" style="transform:scaleX(1.0300)"><span style="color:#e9908a">5</span><span style="color:#49b9e9">6</span></span></div>
<div class="t c" style="top:848px;line-height:26px;font-size:23.00px;color:#a7cd84;-webkit-text-stroke:.45px #fef8d3;left:245.6px;width:200px;"><span class="s" id="t49" style="transform:scaleX(1.0300)"><span style="color:#a7cd84">2</span><span style="color:#e9908a;margin:0 -.06em">1</span><span style="color:#49b9e9">5</span></span></div>
<div class="t c" style="top:909px;line-height:26px;font-size:23.00px;color:#a7cd84;-webkit-text-stroke:.45px #fef8d3;left:245.6px;width:200px;"><span class="s" id="t50" style="transform:scaleX(1.0300)"><span style="color:#e9908a;margin:0 -.06em">1</span><span style="color:#49b9e9">2</span></span></div>
<div class="t c" style="top:725px;line-height:26px;font-size:23.00px;color:#fff;font-weight:700;left:346.0px;width:200px;"><span class="s" id="t51" style="transform:scaleX(0.9504)">C</span></div>
<div class="t c" style="top:787px;line-height:26px;font-size:23.00px;color:#a7cd84;-webkit-text-stroke:.45px #fef8d3;left:346.0px;width:200px;"><span class="s" id="t52" style="transform:scaleX(1.0300)"><span style="color:#49b9e9">2</span><span style="color:#a7cd84;margin:0 -.06em">1</span></span></div>
<div class="t c" style="top:848px;line-height:26px;font-size:23.00px;color:#a7cd84;-webkit-text-stroke:.45px #fef8d3;left:346.0px;width:200px;"><span class="s" id="t53" style="transform:scaleX(1.0300)"><span style="color:#49b9e9">2</span><span style="color:#a7cd84">0</span></span></div>
<div class="t c" style="top:909px;line-height:26px;font-size:23.00px;color:#a7cd84;-webkit-text-stroke:.45px #fef8d3;left:346.0px;width:200px;"><span class="s" id="t54" style="transform:scaleX(1.0300)"><span style="color:#49b9e9;margin:0 -.06em">1</span><span style="color:#a7cd84">0</span></span></div>
<div class="t c" style="top:725px;line-height:26px;font-size:23.00px;color:#fff;font-weight:700;left:446.4px;width:200px;"><span class="s" id="t55" style="transform:scaleX(0.9925)">D</span></div>
<div class="t c" style="top:787px;line-height:26px;font-size:23.00px;color:#a7cd84;-webkit-text-stroke:.45px #fef8d3;left:446.4px;width:200px;"><span class="s" id="t56" style="transform:scaleX(1.0300)"><span style="color:#a7cd84">4</span><span style="color:#e9908a">0</span></span></div>
<div class="t c" style="top:848px;line-height:26px;font-size:23.00px;color:#a7cd84;-webkit-text-stroke:.45px #fef8d3;left:446.4px;width:200px;"><span class="s" id="t57" style="transform:scaleX(1.0300)"><span style="color:#e9908a">3</span></span></div>
<div class="t c" style="top:909px;line-height:26px;font-size:23.00px;color:#a7cd84;-webkit-text-stroke:.45px #fef8d3;left:446.4px;width:200px;"><span class="s" id="t58" style="transform:scaleX(1.0300)"><span style="color:#49b9e9">2</span><span style="color:#a7cd84;margin:0 -.06em">1</span><span style="color:#e9908a;margin:0 -.06em">1</span></span></div>
<div class="t c" style="top:725px;line-height:26px;font-size:23.00px;color:#fff;font-weight:700;left:546.7px;width:200px;"><span class="s" id="t59" style="transform:scaleX(0.9504)">U</span></div>
<div class="t c" style="top:787px;line-height:26px;font-size:23.00px;color:#a7cd84;-webkit-text-stroke:.45px #fef8d3;left:546.7px;width:200px;"><span class="s" id="t60" style="transform:scaleX(1.0300)"><span style="color:#e9908a;margin:0 -.06em">1</span><span style="color:#49b9e9">8</span></span></div>
<div class="t c" style="top:848px;line-height:26px;font-size:23.00px;color:#a7cd84;-webkit-text-stroke:.45px #fef8d3;left:546.7px;width:200px;"><span class="s" id="t61" style="transform:scaleX(1.0300)"><span style="color:#e9908a">4</span><span style="color:#49b9e9">3</span></span></div>
<div class="t c" style="top:909px;line-height:26px;font-size:23.00px;color:#a7cd84;-webkit-text-stroke:.45px #fef8d3;left:546.7px;width:200px;"><span class="s" id="t62" style="transform:scaleX(1.0300)"><span style="color:#e9908a">5</span><span style="color:#49b9e9">5</span></span></div>
<div class="t c" style="top:725px;line-height:26px;font-size:23.00px;color:#7a7f9c;-webkit-text-stroke:.45px #fce8f3;left:707.8px;width:200px;"><span class="s" id="t63" style="transform:scaleX(1.0328)">HABITANTES</span></div>
<div class="t c" style="top:725px;line-height:26px;font-size:23.00px;color:#7a7f9c;-webkit-text-stroke:.45px #fce8f3;left:930.3px;width:200px;"><span class="s" id="t64" style="transform:scaleX(1.0334)">CAPITAL</span></div>
<div class="t c" style="top:1130px;line-height:26px;font-size:23.00px;color:#7a809e;-webkit-text-stroke:.45px #fff;left:83.4px;width:200px;"><span class="s" id="t65" style="transform:scaleX(1.0124)">DESTINO</span></div>
<div class="t c" style="top:1204px;line-height:25px;font-size:22.60px;color:#7a809e;-webkit-text-stroke:.45px #fff;left:83.1px;width:200px;"><span class="s" id="t66" style="transform:scaleX(1.0155)">Zagreb</span></div>
<div class="t c" style="top:1204px;line-height:25px;font-size:22.60px;color:#7a809e;-webkit-text-stroke:.45px #fff;left:243.2px;width:200px;"><span class="s" id="t67" style="transform:scaleX(1.0000)"><span style="margin:0 -.1em">1</span>5</span></div>
<div class="t c" style="top:1204px;line-height:25px;font-size:22.60px;color:#7a809e;-webkit-text-stroke:.45px #fff;left:372.0px;width:200px;"><span class="s" id="t68" style="transform:scaleX(1.0000)">20</span></div>
<div class="t c" style="top:1204px;line-height:25px;font-size:22.60px;color:#7a809e;-webkit-text-stroke:.45px #fff;left:468.8px;width:200px;"><span class="s" id="t69" style="transform:scaleX(1.0000)"><span style="margin:0 -.1em">1</span>7</span></div>
<div class="t c" style="top:1204px;line-height:25px;font-size:22.60px;color:#7a809e;-webkit-text-stroke:.45px #fff;left:547.2px;width:200px;"><span class="s" id="t70" style="transform:scaleX(1.0000)">8</span></div>
<div class="t c" style="top:1204px;line-height:25px;font-size:22.60px;color:#7a809e;-webkit-text-stroke:.45px #fff;left:625.4px;width:200px;"><span class="s" id="t71" style="transform:scaleX(1.0000)">9</span></div>
<div class="t c" style="top:1204px;line-height:25px;font-size:22.60px;color:#7a809e;-webkit-text-stroke:.45px #fff;left:707.5px;width:200px;"><span class="s" id="t72" style="transform:scaleX(1.0000)">5</span></div>
<div class="t c" style="top:1204px;line-height:25px;font-size:22.60px;color:#7a809e;-webkit-text-stroke:.45px #fff;left:792.0px;width:200px;"><span class="s" id="t73" style="transform:scaleX(1.0000)">23</span></div>
<div class="t c" style="top:1204px;line-height:25px;font-size:22.60px;color:#7a809e;-webkit-text-stroke:.45px #fff;left:869.5px;width:200px;"><span class="s" id="t74" style="transform:scaleX(1.0000)"><span style="margin:0 -.1em">1</span><span style="margin:0 -.1em">1</span></span></div>
<div class="t c" style="top:1204px;line-height:25px;font-size:22.60px;color:#7a809e;-webkit-text-stroke:.45px #fff;left:939.0px;width:200px;"><span class="s" id="t75" style="transform:scaleX(1.0000)">4</span></div>
<div class="t c" style="top:1204px;line-height:25px;font-size:22.60px;color:#7a809e;-webkit-text-stroke:.45px #fff;left:1007.7px;width:200px;"><span class="s" id="t76" style="transform:scaleX(1.0000)"><span style="margin:0 -.1em">1</span></span></div>
<div class="t c" style="top:1269px;line-height:25px;font-size:22.60px;color:#7a809e;-webkit-text-stroke:.45px #fff;left:83.1px;width:200px;"><span class="s" id="t77" style="transform:scaleX(1.0292)">Cophenague</span></div>
<div class="t c" style="top:1269px;line-height:25px;font-size:22.60px;color:#7a809e;-webkit-text-stroke:.45px #fff;left:243.2px;width:200px;"><span class="s" id="t78" style="transform:scaleX(1.0000)">2<span style="margin:0 -.1em">1</span></span></div>
<div class="t c" style="top:1269px;line-height:25px;font-size:22.60px;color:#7a809e;-webkit-text-stroke:.45px #fff;left:372.0px;width:200px;"><span class="s" id="t79" style="transform:scaleX(1.0000)">32</span></div>
<div class="t c" style="top:1269px;line-height:25px;font-size:22.60px;color:#7a809e;-webkit-text-stroke:.45px #fff;left:468.8px;width:200px;"><span class="s" id="t80" style="transform:scaleX(1.0000)">2</span></div>
<div class="t c" style="top:1269px;line-height:25px;font-size:22.60px;color:#7a809e;-webkit-text-stroke:.45px #fff;left:547.2px;width:200px;"><span class="s" id="t81" style="transform:scaleX(1.0000)">9</span></div>
<div class="t c" style="top:1269px;line-height:25px;font-size:22.60px;color:#7a809e;-webkit-text-stroke:.45px #fff;left:625.4px;width:200px;"><span class="s" id="t82" style="transform:scaleX(1.0000)">3</span></div>
<div class="t c" style="top:1269px;line-height:25px;font-size:22.60px;color:#7a809e;-webkit-text-stroke:.45px #fff;left:707.5px;width:200px;"><span class="s" id="t83" style="transform:scaleX(1.0000)">8</span></div>
<div class="t c" style="top:1269px;line-height:25px;font-size:22.60px;color:#7a809e;-webkit-text-stroke:.45px #fff;left:792.0px;width:200px;"><span class="s" id="t84" style="transform:scaleX(1.0000)">4</span></div>
<div class="t c" style="top:1269px;line-height:25px;font-size:22.60px;color:#7a809e;-webkit-text-stroke:.45px #fff;left:869.5px;width:200px;"><span class="s" id="t85" style="transform:scaleX(1.0000)">7</span></div>
<div class="t c" style="top:1269px;line-height:25px;font-size:22.60px;color:#7a809e;-webkit-text-stroke:.45px #fff;left:939.0px;width:200px;"><span class="s" id="t86" style="transform:scaleX(1.0000)">5</span></div>
<div class="t c" style="top:1269px;line-height:25px;font-size:22.60px;color:#7a809e;-webkit-text-stroke:.45px #fff;left:1007.7px;width:200px;"><span class="s" id="t87" style="transform:scaleX(1.0000)">6</span></div>
<div class="t c" style="top:1334px;line-height:25px;font-size:22.60px;color:#7a809e;-webkit-text-stroke:.45px #fff;left:83.1px;width:200px;"><span class="s" id="t88" style="transform:scaleX(1.0639)">Ámsterdam</span></div>
<div class="t c" style="top:1334px;line-height:25px;font-size:22.60px;color:#7a809e;-webkit-text-stroke:.45px #fff;left:243.2px;width:200px;"><span class="s" id="t89" style="transform:scaleX(1.0000)">35</span></div>
<div class="t c" style="top:1334px;line-height:25px;font-size:22.60px;color:#7a809e;-webkit-text-stroke:.45px #fff;left:372.0px;width:200px;"><span class="s" id="t90" style="transform:scaleX(1.0000)"><span style="margin:0 -.1em">1</span>2</span></div>
<div class="t c" style="top:1334px;line-height:25px;font-size:22.60px;color:#7a809e;-webkit-text-stroke:.45px #fff;left:468.8px;width:200px;"><span class="s" id="t91" style="transform:scaleX(1.0000)">0</span></div>
<div class="t c" style="top:1334px;line-height:25px;font-size:22.60px;color:#7a809e;-webkit-text-stroke:.45px #fff;left:547.2px;width:200px;"><span class="s" id="t92" style="transform:scaleX(1.0000)">3</span></div>
<div class="t c" style="top:1334px;line-height:25px;font-size:22.60px;color:#7a809e;-webkit-text-stroke:.45px #fff;left:625.4px;width:200px;"><span class="s" id="t93" style="transform:scaleX(1.0000)"><span style="margin:0 -.1em">1</span>0</span></div>
<div class="t c" style="top:1334px;line-height:25px;font-size:22.60px;color:#7a809e;-webkit-text-stroke:.45px #fff;left:707.5px;width:200px;"><span class="s" id="t94" style="transform:scaleX(1.0000)">20</span></div>
<div class="t c" style="top:1334px;line-height:25px;font-size:22.60px;color:#7a809e;-webkit-text-stroke:.45px #fff;left:792.0px;width:200px;"><span class="s" id="t95" style="transform:scaleX(1.0000)">8</span></div>
<div class="t c" style="top:1334px;line-height:25px;font-size:22.60px;color:#7a809e;-webkit-text-stroke:.45px #fff;left:869.5px;width:200px;"><span class="s" id="t96" style="transform:scaleX(1.0000)">3</span></div>
<div class="t c" style="top:1334px;line-height:25px;font-size:22.60px;color:#7a809e;-webkit-text-stroke:.45px #fff;left:939.0px;width:200px;"><span class="s" id="t97" style="transform:scaleX(1.0000)">0</span></div>
<div class="t c" style="top:1334px;line-height:25px;font-size:22.60px;color:#7a809e;-webkit-text-stroke:.45px #fff;left:1007.7px;width:200px;"><span class="s" id="t98" style="transform:scaleX(1.0000)">9</span></div>
<div class="t c" style="top:1400px;line-height:25px;font-size:22.60px;color:#7a809e;-webkit-text-stroke:.45px #fff;left:83.1px;width:200px;"><span class="s" id="t99" style="transform:scaleX(1.0201)">Helsinki</span></div>
<div class="t c" style="top:1400px;line-height:25px;font-size:22.60px;color:#7a809e;-webkit-text-stroke:.45px #fff;left:243.2px;width:200px;"><span class="s" id="t100" style="transform:scaleX(1.0000)">9</span></div>
<div class="t c" style="top:1400px;line-height:25px;font-size:22.60px;color:#7a809e;-webkit-text-stroke:.45px #fff;left:372.0px;width:200px;"><span class="s" id="t101" style="transform:scaleX(1.0000)">4<span style="margin:0 -.1em">1</span></span></div>
<div class="t c" style="top:1400px;line-height:25px;font-size:22.60px;color:#7a809e;-webkit-text-stroke:.45px #fff;left:468.8px;width:200px;"><span class="s" id="t102" style="transform:scaleX(1.0000)">7</span></div>
<div class="t c" style="top:1400px;line-height:25px;font-size:22.60px;color:#7a809e;-webkit-text-stroke:.45px #fff;left:547.2px;width:200px;"><span class="s" id="t103" style="transform:scaleX(1.0000)">30</span></div>
<div class="t c" style="top:1400px;line-height:25px;font-size:22.60px;color:#7a809e;-webkit-text-stroke:.45px #fff;left:625.4px;width:200px;"><span class="s" id="t104" style="transform:scaleX(1.0000)">5</span></div>
<div class="t c" style="top:1400px;line-height:25px;font-size:22.60px;color:#7a809e;-webkit-text-stroke:.45px #fff;left:707.5px;width:200px;"><span class="s" id="t105" style="transform:scaleX(1.0000)"><span style="margin:0 -.1em">1</span>0</span></div>
<div class="t c" style="top:1400px;line-height:25px;font-size:22.60px;color:#7a809e;-webkit-text-stroke:.45px #fff;left:792.0px;width:200px;"><span class="s" id="t106" style="transform:scaleX(1.0000)">32</span></div>
<div class="t c" style="top:1400px;line-height:25px;font-size:22.60px;color:#7a809e;-webkit-text-stroke:.45px #fff;left:869.5px;width:200px;"><span class="s" id="t107" style="transform:scaleX(1.0000)">5</span></div>
<div class="t c" style="top:1400px;line-height:25px;font-size:22.60px;color:#7a809e;-webkit-text-stroke:.45px #fff;left:939.0px;width:200px;"><span class="s" id="t108" style="transform:scaleX(1.0000)">4</span></div>
<div class="t c" style="top:1400px;line-height:25px;font-size:22.60px;color:#7a809e;-webkit-text-stroke:.45px #fff;left:1007.7px;width:200px;"><span class="s" id="t109" style="transform:scaleX(1.0000)">3</span></div>
</div></body></html>
